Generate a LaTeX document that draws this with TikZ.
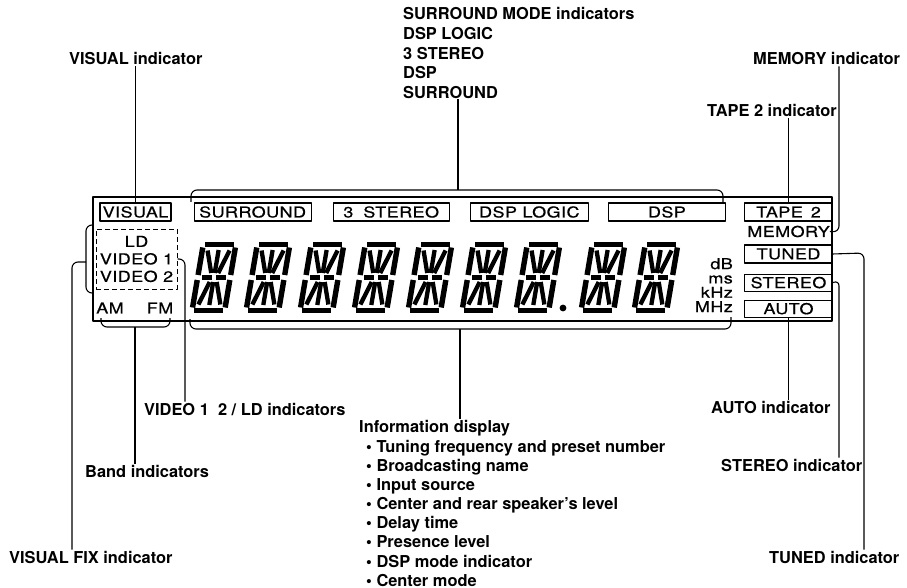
\documentclass[tikz,border=0pt]{standalone}
\usepackage{fontspec}
\setmainfont{TeX Gyre Heros}
\newfontfamily\dispfont[FakeStretch=1.2, LetterSpace=3, FakeBold=0.6]{TeX Gyre Heros}
\usetikzlibrary{positioning}
\tikzset{
  lbl/.style={font=\bfseries\fontsize{16.4}{19.8}\selectfont, inner sep=1pt},
  indbox/.style={draw, line width=1.1pt, minimum height=18pt, inner sep=0pt,
    font=\dispfont\fontsize{15}{15}\selectfont},
  disptext/.style={font=\dispfont\fontsize{15}{17.5}\selectfont, inner sep=0pt},
  frame/.style={line width=1.6pt},
  line/.style={line width=1.1pt, rounded corners=6pt},
  seg/.style={line width=5.4pt},
  thinseg/.style={line width=4.3pt},
  pics/alnum/.style={code={
    \draw[seg] (4.5,2.7) -- (33.5,2.7) (4.5,68.3) -- (33.5,68.3);
    \draw[seg] (2.7,5.5) -- (2.7,33) (2.7,38) -- (2.7,65.5);
    \draw[seg] (35.3,5.5) -- (35.3,33) (35.3,38) -- (35.3,65.5);
    \draw[thinseg] (7,35.5) -- (17,35.5) (21,35.5) -- (31,35.5);
    \draw[thinseg] (19,8) -- (19,31) (19,40) -- (19,63);
    \draw[thinseg] (8,8.5) -- (15.5,31) (30,8.5) -- (22.5,31);
    \draw[thinseg] (8,62.5) -- (15.5,40) (30,62.5) -- (22.5,40);
  }}
}
\begin{document}
\begin{tikzpicture}[x=1pt, y=-1pt, line join=round]
  \useasboundingbox (0,0) rectangle (907,588);

  % display panel
  \draw[frame] (93,197) rectangle (832,321);

  % top row of indicators
  \node[indbox, minimum width=71pt] (visual) at (135.5,212) {VISUAL};
  \node[indbox, minimum width=117pt, right=22pt of visual] (surr) {SURROUND};
  \node[indbox, minimum width=116pt, right=21pt of surr] (stereo3) {3\hspace{10pt}STEREO};
  \node[indbox, minimum width=118pt, right=20pt of stereo3] (dsplogic) {DSP LOGIC};
  \node[indbox, minimum width=117pt, right=19pt of dsplogic] (dsp) {DSP};
  \node[indbox, minimum width=88pt, right=18pt of dsp] (tape) {TAPE\hspace{8pt}2};

  % right column
  \node[disptext, below=4pt of tape] (memory) {MEMORY};
  \node[indbox, minimum width=88pt, below=7pt of memory] (tuned) {TUNED};
  \node[indbox, minimum width=88pt, minimum height=17pt, below=10pt of tuned] (stereo) {STEREO};
  \node[indbox, minimum width=88pt, minimum height=17pt, below=8pt of stereo] (auto) {AUTO};
  \node[align=right, inner sep=0pt, font=\dispfont\fontsize{15}{14.3}\selectfont, anchor=north east] (units) at (733,258) {dB\\ms\\kHz\\MHz};

  % left column
  \node[disptext, draw, dash pattern=on 5pt off 3pt, line width=1pt, minimum width=81pt, minimum height=60pt, align=center] (vidbox) at (136.5,259) {LD\\VIDEO 1\\VIDEO 2};
  \node[disptext] (am) at (110,308) {AM};
  \node[disptext] (fm) at (160,308) {FM};

  % segment digits
  \foreach \dx in {201,255,309,363,417,471,525,590,643}
    \pic[xslant=0.17] at (\dx,242) {alnum};
  \fill (563,308) circle (3.4);

  % labels
  \node[lbl, anchor=base west] (vislbl) at (68,65) {VISUAL indicator};
  \node[lbl, anchor=north west, align=left, inner sep=0pt] (surrlbl) at (403,7) {SURROUND MODE indicators\\DSP LOGIC\\3 STEREO\\DSP\\SURROUND};
  \node[lbl, anchor=base west] (memlbl) at (752,65) {MEMORY indicator};
  \node[lbl, anchor=base east] (tapelbl) at (838,117) {TAPE 2 indicator};
  \node[lbl, anchor=base west] (autolbl) at (710,413) {AUTO indicator};
  \node[lbl, anchor=base west] (sterlbl) at (720,471) {STEREO indicator};
  \node[lbl, anchor=base west] (tunlbl) at (768,563) {TUNED indicator};
  \node[lbl, anchor=base west] (vidlbl) at (143,415) {VIDEO 1\ \ 2 / LD indicators};
  \node[lbl, anchor=base west] (bandlbl) at (84,477) {Band indicators};
  \node[lbl, anchor=base west] (fixlbl) at (8,563) {VISUAL FIX indicator};
  \node[lbl, anchor=base west] (infolbl) at (358,432) {Information display};
  \node[lbl, anchor=north west, align=left, inner sep=0pt, font=\bfseries\fontsize{16.4}{19.1}\selectfont] (infolist) at (366,440)
    {\textbullet\ Tuning frequency and preset number\\
     \textbullet\ Broadcasting name\\
     \textbullet\ Input source\\
     \textbullet\ Center and rear speaker’s level\\
     \textbullet\ Delay time\\
     \textbullet\ Presence level\\
     \textbullet\ DSP mode indicator\\
     \textbullet\ Center mode};

  % bracket points
  \coordinate (topl) at (191,202);
  \coordinate (topr) at (723,202);
  \coordinate (topmid) at (458,190);
  \coordinate (infol) at (190,319);
  \coordinate (infor) at (731,317);
  \coordinate (infomid) at (460,329);
  \coordinate (fixt) at (93,225);
  \coordinate (fixb) at (93,293);
  \coordinate (fixmid) at (86,262);
  \coordinate (fixturn) at (72,262);
  \coordinate (bandl) at (101,318);
  \coordinate (bandr) at (170,318);
  \coordinate (bandmid) at (135,327);
  \coordinate (vidturn) at (185,259);
  \coordinate (memturn) at (839,232);
  \coordinate (tunturn) at (864,253);
  \coordinate (sterturn) at (839,280);

  % connectors
  \draw[line] (visual.north) -- (visual.north |- vislbl.south);
  \draw[line] (topl) |- (topmid) -| (topr);
  \draw[line] (topmid) -- (topmid |- surrlbl.south);
  \draw[line] (memory.east) -- (memturn) -- (memturn |- memlbl.south);
  \draw[line] (tape.north) -- (tape.north |- tapelbl.south);
  \draw[line] (tuned.east) -- (tunturn) -- (tunturn |- tunlbl.north);
  \draw[line] (stereo.east) -- (sterturn) -- (sterturn |- sterlbl.north);
  \draw[line] (auto.south) -- (auto.south |- autolbl.north);
  \draw[line] (infol) |- (infomid) -| (infor);
  \draw[line] (infomid) -- (infomid |- infolbl.north);
  \draw[line] (fixt) -| (fixmid) |- (fixb);
  \draw[line] (fixmid) -- (fixturn) -- (fixturn |- fixlbl.north);
  \draw[line] (bandl) |- (bandmid) -| (bandr);
  \draw[line] (bandmid) -- (bandmid |- bandlbl.north);
  \draw[line] (vidbox.east) -- (vidturn) -- (vidturn |- vidlbl.north);
\end{tikzpicture}
\end{document}
